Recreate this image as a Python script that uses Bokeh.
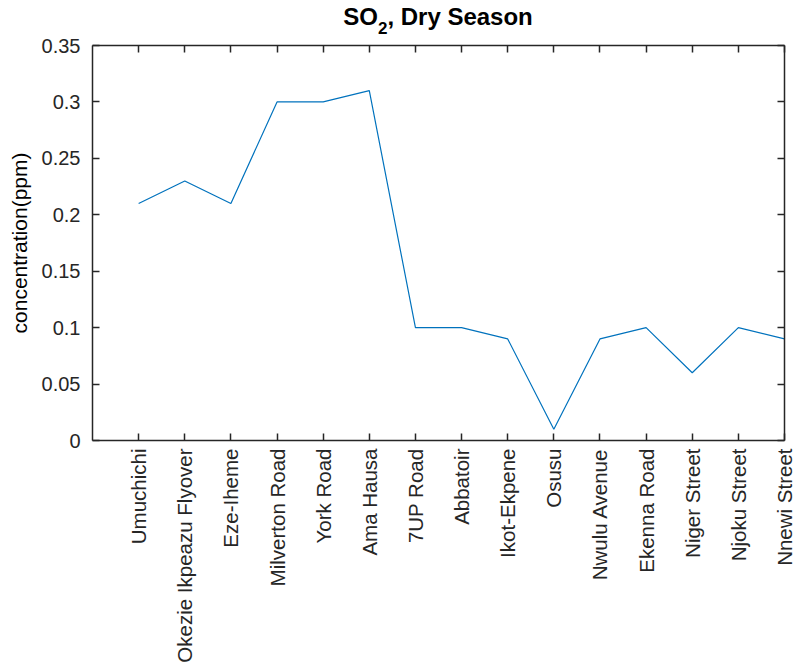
import math
from bokeh.plotting import figure
from bokeh.models import LinearAxis, FixedTicker, Div
from bokeh.layouts import column
from bokeh.embed import file_html
from bokeh.resources import INLINE

sites = ["Umuchichi", "Okezie Ikpeazu Flyover", "Eze-Iheme", "Milverton Road", "York Road",
         "Ama Hausa", "7UP Road", "Abbatoir", "Ikot-Ekpene", "Osusu", "Nwulu Avenue",
         "Ekenna Road", "Niger Street", "Njoku Street", "Nnewi Street"]
so2 = [0.21, 0.23, 0.21, 0.30, 0.30, 0.31, 0.10, 0.10, 0.09, 0.01, 0.09, 0.10, 0.06, 0.10, 0.09]
y_ticks = [0, 0.05, 0.1, 0.15, 0.2, 0.25, 0.3, 0.35]
y_tick_labels = ["0", "0.05", "0.1", "0.15", "0.2", "0.25", "0.3", "0.35"]
title_main = "SO"
title_sub = "2"
title_rest = ", Dry Season"

xs = list(range(1, len(sites) + 1))
FONT = "Liberation Sans"
AX = "#262626"
TS = 20

p = figure(frame_width=692, frame_height=395, x_range=(0, 15), y_range=(0, 0.35),
           output_backend="svg", toolbar_location=None,
           min_border_left=92, min_border_right=12, min_border_top=10, min_border_bottom=0)

p.line(xs, so2, line_color="#0072BD", line_width=1.2)

p.xgrid.visible = False
p.ygrid.visible = False
p.outline_line_color = None

xt = FixedTicker(ticks=xs)
yt = FixedTicker(ticks=y_ticks)

xa = p.xaxis[0]
xa.ticker = xt
xa.major_label_overrides = {i: s for i, s in zip(xs, sites)}
xa.major_label_orientation = math.pi / 2
xa.major_label_standoff = 8

ya = p.yaxis[0]
ya.ticker = yt
ya.major_label_overrides = {v: s for v, s in zip(y_ticks, y_tick_labels)}
ya.major_label_standoff = 12
ya.axis_label = "concentration(ppm)"
ya.axis_label_text_font = FONT
ya.axis_label_text_font_size = "21px"
ya.axis_label_text_font_style = "normal"
ya.axis_label_text_color = "#000000"
ya.axis_label_standoff = 8

xa.major_label_text_font_size = "20.5px"
ya.major_label_text_font_size = f"{TS}px"
for ax in (xa, ya):
    ax.major_label_text_font = FONT
    ax.major_label_text_color = AX

# box axes on top and right: ticks only, labels not drawn
top = LinearAxis(ticker=xt, major_label_text_font_size="1px", major_label_text_color=None,
                 major_label_standoff=0)
right = LinearAxis(ticker=yt, major_label_text_font_size="1px", major_label_text_color=None,
                   major_label_standoff=0)
p.add_layout(top, "above")
p.add_layout(right, "right")

for ax in (xa, ya, top, right):
    ax.axis_line_color = AX
    ax.axis_line_width = 1.5
    ax.major_tick_line_color = AX
    ax.major_tick_line_width = 1.5
    ax.major_tick_in = 7
    ax.major_tick_out = 0
    ax.minor_tick_line_color = None

title = Div(
    text=(f'{title_main}<span style="font-size:17px; position:relative; top:9px;">'
          f'{title_sub}</span>{title_rest}'),
    width=692, height=35, margin=(0, 0, 0, 92),
    styles={"font-family": FONT, "font-weight": "bold", "font-size": "24px",
            "line-height": "24px", "padding-top": "5px", "text-align": "center",
            "color": "#000000", "width": "692px", "display": "block"},
)

layout = column(title, p, spacing=0)
open("out.html", "w").write(file_html(layout, INLINE))
